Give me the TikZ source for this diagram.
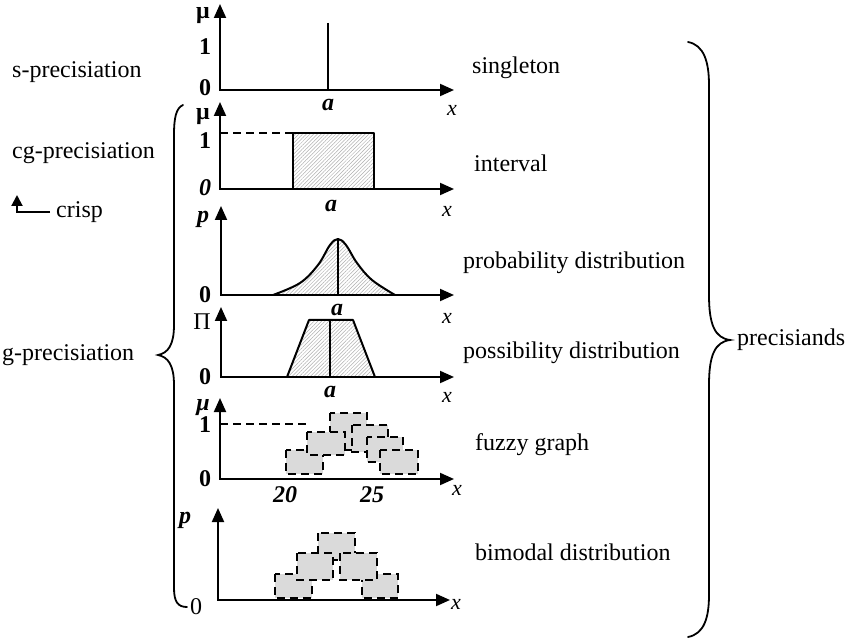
\documentclass[tikz,border=0pt]{standalone}
\usepackage{fontspec}
\setmainfont{Liberation Serif}
\usetikzlibrary{arrows.meta,patterns.meta}
\definecolor{sqgray}{RGB}{218,218,218}
\definecolor{hatchgray}{RGB}{175,175,175}
\tikzset{
  ax/.style={line width=2pt, {Triangle[length=14pt,width=12pt]}-{Triangle[length=14pt,width=12pt]}},
  crv/.style={line width=2pt, line join=round},
  hatch/.style={pattern={Lines[angle=45,distance=2.6pt,line width=0.5pt]}, pattern color=hatchgray},
  dsq/.style={fill=sqgray, draw, line width=1.8pt, dash pattern=on 8pt off 5pt},
  side/.style={font=\fontsize{24}{28}\selectfont, anchor=west, inner sep=0pt},
  lab/.style={font=\fontsize{24}{28}\selectfont, inner sep=0pt},
  xlab/.style={font=\fontsize{22}{26}\selectfont, inner sep=0pt},
  brace/.style={line width=1.8pt, line cap=round},
}
\begin{document}
\begin{tikzpicture}[x=1pt,y=-1pt]
\useasboundingbox (0,0) rectangle (852,639);

% ---------- left labels ----------
\node[side] (sprec) at (12,72) {s-precisiation};
\node[side] (cgprec) at (12,153) {cg-precisiation};
\node[side] (crisp) at (56,212) {crisp};
\draw[line width=2pt, -{Triangle[length=11pt,width=11pt]}] ([xshift=-6pt]crisp.west) -| (17,195);
\node[side] (gprec) at (2,355) {g-precisiation};

% left brace
\draw[brace] (183,105) .. controls (176,108) and (174,118) .. (174,135) -- (174,325)
  .. controls (174,345) and (168,353) .. (158,355)
  .. controls (168,357) and (174,365) .. (174,385) -- (174,588)
  .. controls (174,602) and (178,607) .. (187,607);

% ---------- singleton ----------
\draw[ax] (220,4) -- (220,90) -- (454,90);
\draw[crv] (328,23) -- (328,90);
\node[lab] (s-mu) at (203,16) {\textbf{μ}};
\node[lab] (s-one) at (205,47) {\textbf{1}};
\node[lab] (s-zero) at (205,88) {\textbf{0}};
\node[lab] (s-a) at (328,105) {\textbf{\textit{a}}};
\node[xlab] (s-x) at (452,110) {\textit{x}};
\node[side] (singleton) at (472,68) {singleton};

% ---------- interval ----------
\draw[hatch] (293,133) rectangle (374,189);
\draw[crv] (293,189) -- (293,133) -- (374,133) -- (374,189);
\draw[line width=1.5pt, dash pattern=on 8pt off 5pt] (220,133) -- (293,133);
\draw[ax] (220,102) -- (220,189) -- (454,189);
\node[lab] (i-mu) at (203,117) {\textbf{μ}};
\node[lab] (i-one) at (205,141) {\textbf{1}};
\node[lab] (i-zero) at (205,188) {\textbf{\textit{0}}};
\node[lab] (i-a) at (331,206) {\textbf{\textit{a}}};
\node[xlab] (i-x) at (447,211) {\textit{x}};
\node[side] (interval) at (474,163) {interval};

% ---------- probability ----------
\path[hatch] plot[smooth, tension=0.6] coordinates {(273,295) (300,283) (318,265) (330,245) (338,239) (346,245) (357,263) (372,280) (395,295)} -- cycle;
\draw[crv] plot[smooth, tension=0.6] coordinates {(273,295) (300,283) (318,265) (330,245) (338,239) (346,245) (357,263) (372,280) (395,295)};
\draw[crv] (338,239) -- (338,295);
\draw[ax] (221,206) -- (221,295) -- (454,295);
\node[lab] (p-p) at (203,219) {\textbf{\textit{p}}};
\node[lab] (p-zero) at (205,295) {\textbf{0}};
\node[lab] (p-a) at (337,310) {\textbf{\textit{a}}};
\node[xlab] (p-x) at (447,318) {\textit{x}};
\node[side] (probdist) at (463,263) {probability distribution};

% ---------- possibility ----------
\draw[hatch] (287,377) -- (309,320) -- (353,320) -- (375,377) -- cycle;
\draw[crv] (287,377) -- (309,320) -- (353,320) -- (375,377);
\draw[crv] (330,320) -- (330,377);
\draw[ax] (221,307) -- (221,377) -- (454,377);
\node[lab] (q-pi) at (202,322) {Π};
\node[lab] (q-zero) at (205,377) {\textbf{0}};
\node[lab] (q-a) at (330,392) {\textbf{\textit{a}}};
\node[xlab] (q-x) at (447,397) {\textit{x}};
\node[side] (possdist) at (463,353) {possibility distribution};

% ---------- fuzzy graph ----------
\draw[line width=1.5pt, dash pattern=on 8pt off 5pt] (220,424) -- (307,424);
\draw[dsq] (330,413) rectangle (367,450);
\draw[dsq] (352,425) rectangle (388,452);
\draw[dsq] (367,437) rectangle (403,462);
\draw[dsq] (380,450) rectangle (418,474);
\draw[dsq] (286,450) rectangle (323,474);
\draw[dsq] (307,432) rectangle (345,455);
\draw[ax] (220,398) -- (220,479) -- (454,479);
\node[lab] (f-mu) at (203,408) {\textbf{\textit{μ}}};
\node[lab] (f-one) at (205,425) {\textbf{1}};
\node[lab] (f-zero) at (205,479) {\textbf{0}};
\node[lab] (f-20) at (285,495) {\textbf{\textit{20}}};
\node[lab] (f-25) at (372,495) {\textbf{\textit{25}}};
\node[xlab] (f-x) at (457,490) {\textit{x}};
\node[side] (fuzzy) at (475,445) {fuzzy graph};

% ---------- bimodal ----------
\draw[dsq] (275,574) rectangle (312,598);
\draw[dsq] (362,574) rectangle (398,598);
\draw[dsq] (318,533) rectangle (355,560);
\draw[dsq] (297,553) rectangle (333,580);
\draw[dsq] (340,553) rectangle (377,580);
\draw[ax] (218,508) -- (218,600) -- (450,600);
\node[lab] (b-p) at (185,520) {\textbf{\textit{p}}};
\node[lab] (b-zero) at (196,607) {0};
\node[xlab, anchor=west] (b-x) at (451,604) {\textit{x}};
\node[side] (bimodal) at (475,552) {bimodal distribution};

% ---------- right brace ----------
\draw[brace] (688,42) .. controls (704,45) and (709,62) .. (709,85) -- (709,295)
  .. controls (709,325) and (715,338) .. (730,340)
  .. controls (715,342) and (709,355) .. (709,385) -- (709,595)
  .. controls (709,618) and (704,634) .. (688,637);
\node[side] (precisiands) at (737,340) {precisiands};
\end{tikzpicture}
\end{document}
